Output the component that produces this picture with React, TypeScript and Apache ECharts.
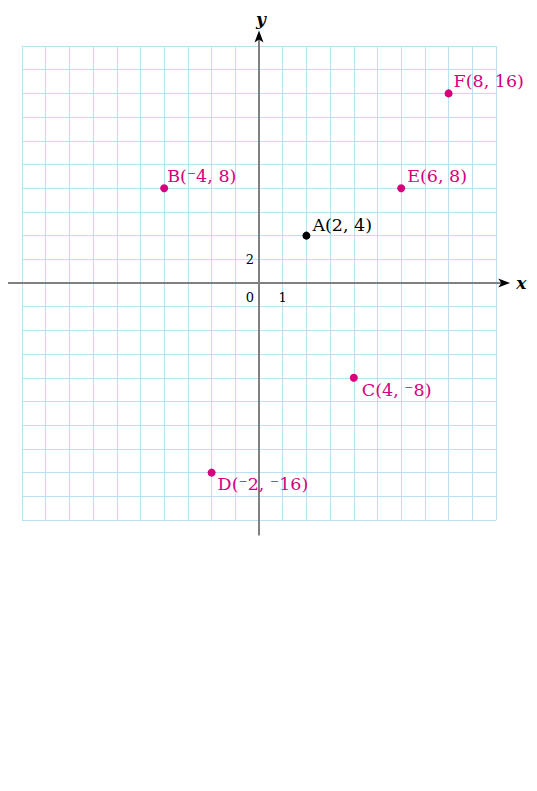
import React, { useEffect, useRef } from "react";
import * as echarts from "echarts";

const pointNames = ["A", "B", "C", "D", "E", "F"];
const pointX = [2, -4, 4, -2, 6, 8];
const pointY = [4, 8, -8, -16, 8, 16];
const xRange = [-10, 10];
const yRange = [-20, 20];
const xStep = 1;
const yStep = 2;
const tickMarks = [
  { text: "0", v: [0, 0] },
  { text: "1", v: [1, 0] },
  { text: "2", v: [0, 2] },
];

// layout (style) for labels
const labelOffsets = [
  [-1, -11],
  [-4, -12],
  [1, 12],
  [-1, 11],
  [-1, -12],
  [-2, -12],
];

const MAGENTA = "#d4007c";
const FONT = "DejaVu Serif";

const fmt = (v: number) => (v < 0 ? "\u207B" + Math.abs(v) : String(v));

export default function App() {
  const ref = useRef<HTMLDivElement>(null);
  useEffect(() => {
    const chart = echarts.init(ref.current!, null, { renderer: "svg" });
    const data = pointNames.map((n, i) => ({
      value: [pointX[i], pointY[i]],
      name: n,
      itemStyle: { color: n === "A" ? "#000" : MAGENTA, opacity: 1 },
      label: {
        show: true,
        position: "right",
        distance: 3,
        offset: labelOffsets[i],
        formatter: `${n}(${fmt(pointX[i])}, ${fmt(pointY[i])})`,
        color: n === "A" ? "#000" : MAGENTA,
        fontFamily: FONT,
        fontSize: 17.5,
      },
    }));
    const axisCommon = {
      type: "value",
      axisLine: { show: false },
      axisTick: { show: false },
      axisLabel: { show: false },
      splitLine: { show: true, lineStyle: { color: "#b9e1f3", width: 1 } },
    };
    chart.setOption({
      animation: false,
      grid: { left: 14, top: 38, width: 474, height: 474, containLabel: false },
      xAxis: { ...axisCommon, min: xRange[0], max: xRange[1], interval: xStep },
      yAxis: { ...axisCommon, min: yRange[0], max: yRange[1], interval: yStep },
      series: [
        {
          type: "scatter",
          symbolSize: 8,
          data,
          z: 10,
          emphasis: { disabled: true },
        },
      ],
    });
    const p = (v: number[]) => chart.convertToPixel({ gridIndex: 0 }, v) as number[];
    const o = p([0, 0]);
    const xl = p([-10.6, 0]);
    const xr = p([10.6, 0]);
    const yt = p([0, 21.3]);
    const yb = p([0, -21.3]);
    const axisStyle = { stroke: "#808080", lineWidth: 2 };
    const graphics: any[] = [
      { type: "line", shape: { x1: xl[0], y1: o[1], x2: xr[0] - 6, y2: o[1] }, style: axisStyle, z: 5 },
      { type: "line", shape: { x1: o[0], y1: yb[1], x2: o[0], y2: yt[1] + 6 }, style: axisStyle, z: 5 },
      {
        type: "polygon",
        shape: { points: [[xr[0], o[1]], [xr[0] - 12, o[1] - 4.5], [xr[0] - 9, o[1]], [xr[0] - 12, o[1] + 4.5]] },
        style: { fill: "#000" },
        z: 6,
      },
      {
        type: "polygon",
        shape: { points: [[o[0], yt[1]], [o[0] - 4.5, yt[1] + 12], [o[0], yt[1] + 9], [o[0] + 4.5, yt[1] + 12]] },
        style: { fill: "#000" },
        z: 6,
      },
      {
        type: "text",
        x: xr[0] + 6,
        y: o[1],
        style: { text: "x", font: `italic bold 17px ${FONT}`, fill: "#000", textVerticalAlign: "middle" },
        z: 6,
      },
      {
        type: "text",
        x: o[0] + 2,
        y: yt[1] - 12,
        style: { text: "y", font: `italic bold 17px ${FONT}`, fill: "#000", textAlign: "center", textVerticalAlign: "middle" },
        z: 6,
      },
    ];
    tickMarks.forEach((t) => {
      const q = p(t.v);
      let x = q[0];
      let y = q[1];
      if (t.text === "0") { x -= 9; y += 14; }
      else if (t.text === "1") { y += 14; }
      else { x -= 9; y += 0; }
      graphics.push({
        type: "text",
        x,
        y,
        style: { text: t.text, font: `13px ${FONT}`, fill: "#000", textAlign: "center", textVerticalAlign: "middle" },
        z: 6,
      });
    });
    chart.setOption({ graphic: graphics });
    return () => chart.dispose();
  }, []);
  return <div ref={ref} style={{ width: 521, height: 775 }} />;
}
